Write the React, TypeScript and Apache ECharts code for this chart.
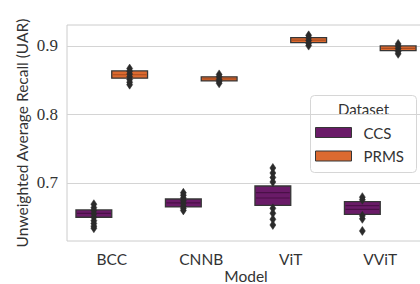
import React, { useEffect, useRef } from "react";
import * as echarts from "echarts";

const categories = ["BCC", "CNNB", "ViT", "VViT"];
const hues = ["CCS", "PRMS"];
const hueColors = ["#6a1b68", "#dc6a30"];
const hueLineColors = ["#4a1047", "#a84c1f"];
const yTicks = [0.7, 0.8, 0.9];

// box (lower / upper quartile) per category
const ccsQ1 = [0.65, 0.665, 0.6674, 0.6543];
const ccsQ3 = [0.6606, 0.6766, 0.6956, 0.6727];
const ccsLines = [[0.6555], [0.671], [0.6858, 0.6781], [0.6669, 0.6616]];
const ccsPoints = [
  [0.669, 0.664, 0.66, 0.655, 0.65, 0.645, 0.641, 0.637, 0.634],
  [0.6857, 0.682, 0.678, 0.674, 0.67, 0.666, 0.663, 0.66],
  [0.7219, 0.7146, 0.708, 0.7015, 0.663, 0.6558, 0.647, 0.6387],
  [0.6793, 0.6755, 0.652, 0.6477, 0.63],
];

const prmsQ1 = [0.853, 0.849, 0.9048, 0.8931];
const prmsQ3 = [0.8635, 0.855, 0.9121, 0.9];
const prmsLines = [[0.858], [0.852], [0.9085], [0.8965]];
const prmsPoints = [
  [0.867, 0.863, 0.859, 0.855, 0.851, 0.847, 0.8435],
  [0.8585, 0.855, 0.851, 0.848, 0.8455],
  [0.9155, 0.912, 0.908, 0.904, 0.9005],
  [0.903, 0.8995, 0.896, 0.892, 0.8885],
];

const Y_MIN = 0.6153;
const Y_MAX = 0.9306;
const SANS = "Lato, 'Noto Sans', sans-serif";

function buildOption() {
  const q1s = [ccsQ1, prmsQ1];
  const q3s = [ccsQ3, prmsQ3];
  const lines = [ccsLines, prmsLines];
  const pts = [ccsPoints, prmsPoints];

  const boxData: number[][] = [];
  const lineData: number[][] = [];
  const pointData: number[][] = [];
  hues.forEach((_, h) => {
    categories.forEach((_, c) => {
      boxData.push([c, q1s[h][c], q3s[h][c], h]);
      lines[h][c].forEach((v) => lineData.push([c, v, h]));
      pts[h][c].forEach((v) => pointData.push([c, v, h]));
    });
  });

  const offsetOf = (h: number, band: number) => (h === 0 ? -0.2 : 0.2) * band;

  return {
    animation: false,
    grid: {
      left: 67,
      top: 25,
      width: 358,
      height: 216,
      outerBoundsMode: "none",
      containLabel: false,
      show: true,
      borderColor: "#cccccc",
      borderWidth: 1,
      backgroundColor: "#ffffff",
    },
    xAxis: {
      type: "category",
      data: categories,
      boundaryGap: true,
      axisLine: { show: false },
      axisTick: { show: false },
      axisLabel: { fontFamily: SANS, fontSize: 15.5, color: "#333333", margin: 10 },
      splitLine: { show: false },
      name: "Model",
      nameLocation: "middle",
      nameGap: 35,
      nameMoveOverlap: false,
      nameTextStyle: {
        fontFamily: SANS,
        fontSize: 15.5,
        color: "#333333",
        verticalAlign: "middle",
        lineHeight: 16,
      },
    },
    yAxis: {
      type: "value",
      min: Y_MIN,
      max: Y_MAX,
      axisLine: { show: false },
      axisTick: { show: false, customValues: yTicks },
      axisLabel: {
        customValues: yTicks,
        formatter: (v: number) => v.toFixed(1),
        fontFamily: "'Liberation Serif', serif",
        fontSize: 17,
        color: "#333333",
        margin: 9,
      },
      splitLine: { show: true, lineStyle: { color: "#d4d4d4", width: 1 } },
      name: "Unweighted Average Recall (UAR)",
      nameLocation: "middle",
      nameGap: 45.5,
      nameMoveOverlap: false,
      nameTextStyle: {
        fontFamily: SANS,
        fontSize: 15.5,
        color: "#333333",
        verticalAlign: "middle",
        lineHeight: 16,
      },
    },
    series: [
      {
        type: "custom",
        data: boxData,
        z: 2,
        renderItem: (params: any, api: any) => {
          const c = api.value(0);
          const h = api.value(3);
          const band = api.size([1, 0])[0];
          const lo = api.coord([c, api.value(1)]);
          const hi = api.coord([c, api.value(2)]);
          const w = 0.4 * band;
          const cx = lo[0] + offsetOf(h, band);
          return {
            type: "rect",
            shape: { x: cx - w / 2, y: hi[1], width: w, height: lo[1] - hi[1] },
            style: { fill: hueColors[h], stroke: "#363636", lineWidth: 1.3 },
          };
        },
      },
      {
        type: "custom",
        data: lineData,
        z: 3,
        renderItem: (params: any, api: any) => {
          const c = api.value(0);
          const h = api.value(2);
          const band = api.size([1, 0])[0];
          const p = api.coord([c, api.value(1)]);
          const w = 0.4 * band;
          const cx = p[0] + offsetOf(h, band);
          return {
            type: "line",
            shape: { x1: cx - w / 2 + 1, y1: p[1], x2: cx + w / 2 - 1, y2: p[1] },
            style: { stroke: hueLineColors[h], lineWidth: 1.2 },
          };
        },
      },
      {
        type: "custom",
        data: pointData,
        z: 4,
        renderItem: (params: any, api: any) => {
          const c = api.value(0);
          const h = api.value(2);
          const band = api.size([1, 0])[0];
          const p = api.coord([c, api.value(1)]);
          const cx = p[0] + offsetOf(h, band);
          const cy = p[1];
          const hw = 3;
          const hh = 4.5;
          return {
            type: "polygon",
            shape: {
              points: [
                [cx, cy - hh],
                [cx + hw, cy],
                [cx, cy + hh],
                [cx - hw, cy],
              ],
            },
            style: { fill: "#2b2b2b", stroke: "#2b2b2b", lineWidth: 0.5 },
          };
        },
      },
    ],
    graphic: [
      {
        type: "group",
        left: 310,
        top: 95,
        z: 100,
        children: [
          {
            type: "rect",
            shape: { x: 0, y: 0, width: 106, height: 77, r: 4 },
            style: { fill: "rgba(255,255,255,0.85)", stroke: "#d6d6d6", lineWidth: 1 },
          },
          {
            type: "text",
            x: 53,
            y: 13,
            style: {
              text: "Dataset",
              fontFamily: SANS,
              fontSize: 15,
              fill: "#333333",
              align: "center",
              verticalAlign: "middle",
            },
          },
          ...hues.flatMap((name, i) => [
            {
              type: "rect",
              shape: { x: 5, y: 32 + i * 23.5, width: 36, height: 10 },
              style: { fill: hueColors[i], stroke: "#363636", lineWidth: 1 },
            },
            {
              type: "text",
              x: 53,
              y: 37 + i * 23.5,
              style: {
                text: name,
                fontFamily: SANS,
                fontSize: 15,
                fill: "#333333",
                align: "left",
                verticalAlign: "middle",
              },
            },
          ]),
        ],
      },
    ],
  };
}

export default function App() {
  const ref = useRef<HTMLDivElement>(null);
  useEffect(() => {
    if (!ref.current) return;
    const chart = echarts.init(ref.current, null, { renderer: "svg" });
    chart.setOption(buildOption() as any);
    return () => chart.dispose();
  }, []);
  return (
    <div
      ref={ref}
      style={{ position: "fixed", left: 0, top: 0, width: 420, height: 284, background: "#fff" }}
    />
  );
}
